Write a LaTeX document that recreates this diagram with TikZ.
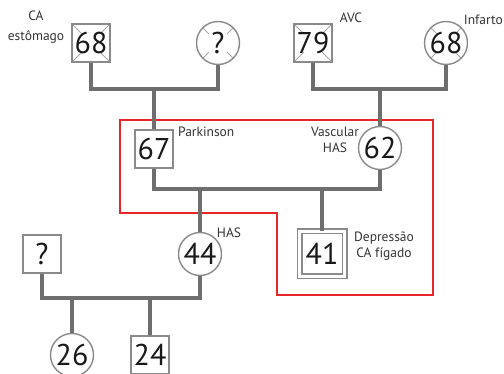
\documentclass[tikz,border=0pt]{standalone}
\usepackage{fontspec}
\setmainfont{PT Sans}
\usetikzlibrary{positioning}
\definecolor{pdborder}{HTML}{8A8A8A}
\definecolor{pdconn}{HTML}{6E6E6E}
\definecolor{pdcross}{HTML}{A8A8A8}
\definecolor{pdred}{HTML}{E8262A}
\newcommand{\pdnum}{\fontsize{30}{30}\selectfont}
\tikzset{
  pdmale/.style={
    rectangle, draw=pdborder, line width=1.4pt, fill=white,
    minimum size=38pt, inner sep=0pt, font=\pdnum, text=black!90
  },
  pdfemale/.style={pdmale, circle, minimum size=43pt},
  pddead/.style={
    path picture={
      \foreach \a in {45,135,225,315}
        \draw[pdcross, line width=1pt] (path picture bounding box.center) ++(\a:13pt) -- ++(\a:20pt);
    }
  },
  pdindex/.style={pdmale, minimum size=45pt, double=white, double distance=3.2pt},
  pdline/.style={draw=pdconn, line width=4pt},
  pdnote/.style={font=\fontsize{13.5}{16}\selectfont, text=black!80, align=center, inner sep=0pt},
  pdframe/.style={draw=pdred, line width=1.3pt},
}

\begin{document}
\begin{tikzpicture}[x=1pt, y=-1pt]
  \useasboundingbox (0,0) rectangle (504,374);

  \draw[pdframe] (120,120) -- (433,120) -- (433,295) -- (277,295) -- (277,213) -- (120,213) -- cycle;

  % grandparents
  \node (m68) [pdmale, pddead] at (91,43) {68};
  \node (fq) [pdfemale, pddead] at (218,43) {?};
  \node (m79) [pdmale, pddead] at (313,43) {79};
  \node (f68) [pdfemale, pddead] at (446,43) {68};
  % parents
  \node (m67) [pdmale] at (154,149) {67};
  \node (f62) [pdfemale] at (380,148) {62};
  % siblings
  \node (mq) [pdmale] at (42,254) {?};
  \node (f44) [pdfemale] at (200,254) {44};
  \node (m41) [pdindex] at (322,254) {41};
  % children
  \node (f26) [pdfemale] at (72,355) {26};
  \node (m24) [pdmale] at (150,355) {24};

  % notes
  \node (n1) [pdnote] at (36,27) {CA\\[4pt]estômago};
  \node (n2) [pdnote] at (351,18) {AVC};
  \node (n3) [pdnote, anchor=east] at (503,20) {Infarto};
  \node (n4) [pdnote, anchor=west] at (178,132) {Parkinson};
  \node (n5) [pdnote] at (335,140) {Vascular\\HAS};
  \node (n6) [pdnote] at (229,233) {HAS};
  \node (n7) [pdnote] at (384,246) {Depressão\\CA fígado};

  % lines
  \draw[pdline] (m68.south) -- ++(0,26) coordinate (b1) -| (fq.south);
  \draw[pdline] (b1 -| m67) -- (m67.north);
  \draw[pdline] (m79.south) -- ++(0,26) coordinate (b2) -| (f68.south);
  \draw[pdline] (b2 -| f62) -- (f62.north);
  \draw[pdline] (m67.south) -- ++(0,20) coordinate (b3) -| (f62.south);
  \draw[pdline] (b3 -| f44) -- (f44.north);
  \draw[pdline] (b3 -| m41) -- (m41.north);
  \draw[pdline] (mq.south) -- ++(0,24) coordinate (b4) -| (f44.south);
  \draw[pdline] (b4 -| f26) -- (f26.north);
  \draw[pdline] (b4 -| m24) -- (m24.north);
\end{tikzpicture}
\end{document}
